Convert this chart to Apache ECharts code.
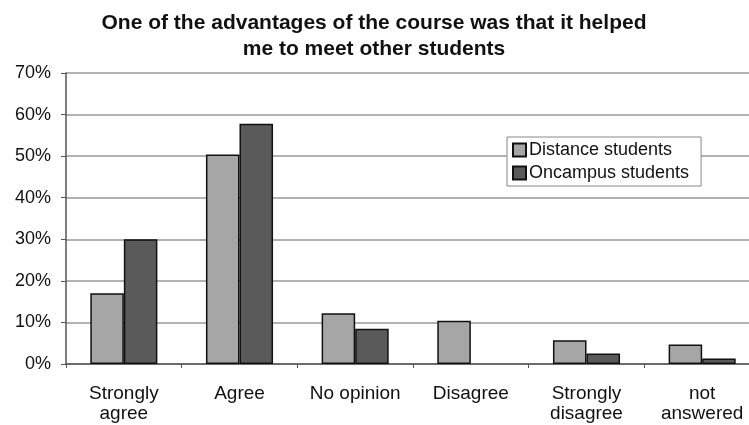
<!DOCTYPE html>
<html>
<head>
<meta charset="utf-8">
<script src="https://cdn.jsdelivr.net/npm/echarts@6/dist/echarts.min.js"></script>
<style>
  html, body { margin: 0; padding: 0; background: #fff; overflow: hidden; }
  /* canvas runs a little past the right edge so the last category is clipped */
  #chart { width: 760px; height: 425px; }
</style>
</head>
<body>
<div id="chart"></div>
<script>
// Survey responses (percent of respondents); null = no bar drawn
const categories = ['Strongly\nagree', 'Agree', 'No opinion', 'Disagree', 'Strongly\ndisagree', 'not\nanswered'];
const distanceStudents = [17, 50.4, 12.2, 10.4, 5.7, 4.7];
const oncampusStudents = [30, 57.8, 8.5, null, 2.5, 1.3];
const yTicks = { min: 0, max: 70, interval: 10 };

const font = 'Liberation Sans, Arial, sans-serif';
const chart = echarts.init(document.getElementById('chart'));

chart.setOption({
  animation: false,
  backgroundColor: '#ffffff',
  title: {
    text: 'One of the advantages of the course was that it helped\nme to meet other students',
    left: 369,
    textAlign: 'center',
    top: 5,
    textStyle: { fontFamily: font, fontSize: 21, fontWeight: 'bold', color: '#111', lineHeight: 26 }
  },
  legend: {
    orient: 'vertical',
    left: 507,
    top: 137,
    padding: [4, 12, 4, 5],
    itemWidth: 13,
    itemHeight: 13,
    itemGap: 5,
    icon: 'rect',
    backgroundColor: '#fff',
    borderColor: '#888',
    borderWidth: 1,
    textStyle: { fontFamily: font, fontSize: 18, color: '#111', padding: [0, 0, 0, -2] },
    data: ['Distance students', 'Oncampus students']
  },
  grid: { left: 66, top: 73, right: 0, bottom: 61 },
  xAxis: {
    type: 'category',
    data: categories,
    axisLine: { lineStyle: { color: '#555', width: 1.5 } },
    axisTick: { show: true, length: 4, lineStyle: { color: '#555' } },
    axisLabel: { fontFamily: font, fontSize: 19, color: '#111', margin: 20, lineHeight: 20, interval: 0 }
  },
  yAxis: {
    type: 'value',
    min: yTicks.min,
    max: yTicks.max,
    interval: yTicks.interval,
    axisLine: { show: true, lineStyle: { color: '#555', width: 1.5 } },
    axisTick: { show: true, length: 5, lineStyle: { color: '#555' } },
    axisLabel: { fontFamily: font, fontSize: 18, color: '#111', margin: 15, formatter: '{value}%' },
    splitLine: { lineStyle: { color: '#999', width: 1.5 } }
  },
  series: [
    {
      name: 'Distance students',
      type: 'bar',
      data: distanceStudents,
      barGap: '0%',
      barCategoryGap: '42%',
      itemStyle: { color: '#a6a6a6', borderColor: '#111', borderWidth: 1.5 }
    },
    {
      name: 'Oncampus students',
      type: 'bar',
      data: oncampusStudents,
      itemStyle: { color: '#5a5a5a', borderColor: '#111', borderWidth: 1.5 }
    }
  ]
});
</script>
</body>
</html>
